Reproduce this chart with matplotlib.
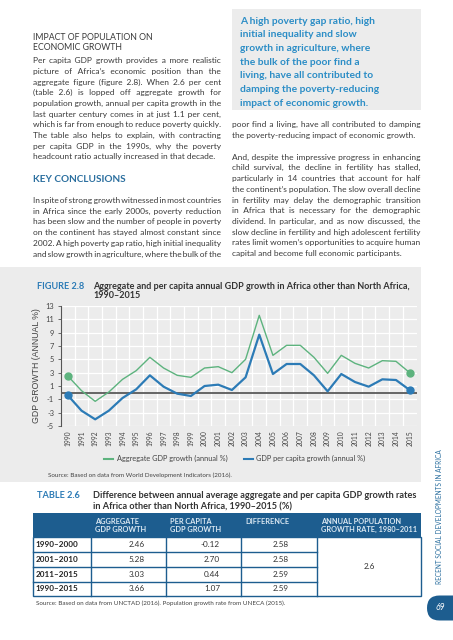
import matplotlib
matplotlib.use("Agg")
import numpy as np
import matplotlib.pyplot as plt
from matplotlib.patches import Rectangle, FancyBboxPatch

# ---- data ----
years = list(range(1990, 2016))
aggregate_growth = [2.5, 0.3, -1.3, 0.1, 2.0, 3.3, 5.3, 3.7, 2.6, 2.3, 3.7, 3.9, 3.0,
                    5.0, 11.6, 5.6, 7.1, 7.1, 5.3, 2.9, 5.6, 4.4, 3.7, 4.8, 4.7, 3.0]
per_capita_growth = [-0.4, -2.7, -4.0, -2.7, -0.8, 0.5, 2.6, 0.9, -0.15, -0.5, 1.0, 1.2, 0.4,
                     2.3, 8.7, 2.8, 4.3, 4.3, 2.6, 0.2, 2.8, 1.6, 0.9, 2.0, 1.9, 0.4]
y_ticks = list(range(-5, 14, 2))

table_headers = ["AGGREGATE\nGDP GROWTH", "PER CAPITA\nGDP GROWTH", "DIFFERENCE",
                 "ANNUAL POPULATION\nGROWTH RATE, 1980–2011"]
table_rows = ["1990–2000", "2001–2010", "2011–2015", "1990–2015"]
table_aggregate = ["2.46", "5.28", "3.03", "3.66"]
table_per_capita = ["-0.12", "2.70", "0.44", "1.07"]
table_difference = ["2.58", "2.58", "2.59", "2.59"]
table_population = "2.6"

callout_lines = ["A high poverty gap ratio, high", "initial inequality and slow",
                 "growth in agriculture, where", "the bulk of the poor find a",
                 "living, have all contributed to", "damping the poverty-reducing",
                 "impact of economic growth."]
para1 = ["Per capita GDP growth provides a more realistic",
         "picture of Africa’s economic position than the",
         "aggregate figure (figure 2.8). When 2.6 per cent",
         "(table 2.6) is lopped off aggregate growth for",
         "population growth, annual per capita growth in the",
         "last quarter century comes in at just 1.1 per cent,",
         "which is far from enough to reduce poverty quickly.",
         "The table also helps to explain, with contracting",
         "per capita GDP in the 1990s, why the poverty",
         "headcount ratio actually increased in that decade."]
para2 = ["In spite of strong growth witnessed in most countries",
         "in Africa since the early 2000s, poverty reduction",
         "has been slow and the number of people in poverty",
         "on the continent has stayed almost constant since",
         "2002. A high poverty gap ratio, high initial inequality",
         "and slow growth in agriculture, where the bulk of the"]
para3 = ["poor find a living, have all contributed to damping",
         "the poverty-reducing impact of economic growth."]
para4 = ["And, despite the impressive progress in enhancing",
         "child survival, the decline in fertility has stalled,",
         "particularly in 14 countries that account for half",
         "the continent’s population. The slow overall decline",
         "in fertility may delay the demographic transition",
         "in Africa that is necessary for the demographic",
         "dividend. In particular, and as now discussed, the",
         "slow decline in fertility and high adolescent fertility",
         "rates limit women’s opportunities to acquire human",
         "capital and become full economic participants."]

# colours
text_col = "#3a3a3a"
panel_gray = "#ececec"
green = "#5db37e"
blue = "#2c7bb6"
light_blue = "#2b8dc6"
dark_blue = "#1d5d8f"
head_blue = "#2b6f9f"

plt.rcParams['font.family'] = ['Lato', 'DejaVu Sans']

fig = plt.figure(figsize=(4.53, 6.4), dpi=100)
page = fig.add_axes([0, 0, 1, 1], zorder=0)
page.set_xlim(0, 453)
page.set_ylim(640, 0)
page.axis('off')
renderer = fig.canvas.get_renderer()


def text_width(s, **kw):
    t = page.text(0, 0, s, **kw)
    w = t.get_window_extent(renderer).width
    t.remove()
    return w


def justify(lines, x0, y0, width, step, last_natural=True, **kw):
    # one text per line; word gaps are built from hair spaces so they can shrink or grow
    base = text_width("aa", **kw)
    fillers = []
    for c in ['\u200a', '\u2009', '\u2006']:
        w = text_width("a" + c + "a", **kw) - base
        if w > 0.2:
            fillers.append((w, c))
    hair_w, hair = min(fillers) if fillers else (text_width("a a", **kw) - base, ' ')
    for i, line in enumerate(lines):
        y = y0 + i * step
        words = line.split()
        n = len(words) - 1
        if (last_natural and i == len(lines) - 1) or n == 0:
            page.text(x0, y, line, va='baseline', **kw)
            continue
        words_w = sum(text_width("a" + w + "a", **kw) - base for w in words)
        total = max(n, int(round((width - words_w) / hair_w)))
        s = words[0]
        for g in range(n):
            k = total * (g + 1) // n - total * g // n
            s += hair * k + words[g + 1]
        page.text(x0, y, s, va='baseline', **kw)


body = dict(fontsize=6.0, color=text_col)

# callout box
page.add_patch(Rectangle((232, 9), 189, 101, facecolor=panel_gray, edgecolor='none'))
for i, line in enumerate(callout_lines):
    page.text(240.5, 23.5 + i * 13.7, line, fontsize=7.35, fontweight='bold',
              color=light_blue, va='baseline')

# left column
page.text(32.7, 39.5, "IMPACT OF POPULATION ON", fontsize=6.3, color=text_col, va='baseline')
page.text(32.7, 50.5, "ECONOMIC GROWTH", fontsize=6.3, color=text_col, va='baseline')
justify(para1, 32.7, 63, 188, 10.7, **body)
page.text(32.7, 182.5, "KEY CONCLUSIONS", fontsize=7.2, fontweight='bold',
          color=head_blue, va='baseline')
justify(para2, 32.7, 203, 188, 10.7, last_natural=False, **body)

# right column
justify(para3, 232, 127.3, 188.5, 10.7, **body)
justify(para4, 232, 159.7, 188.5, 10.7, **body)

# figure panel
page.add_patch(Rectangle((0, 267), 420.5, 215, facecolor=panel_gray, edgecolor='none'))
page.text(36.7, 289, "FIGURE 2.8", fontsize=6.6, fontweight='bold', color=blue, va='baseline')
page.text(93, 289, "Aggregate and per capita annual GDP growth in Africa other than North Africa,",
          fontsize=6.5, fontweight='bold', color='#333333', va='baseline')
page.text(93, 298.5, "1990–2015", fontsize=6.5, fontweight='bold', color='#333333', va='baseline')

ax = fig.add_axes([61 / 453, 1 - 426 / 640, 355.5 / 453, 120 / 640], zorder=2)
ax.set_facecolor(panel_gray)
ax.plot(years, aggregate_growth, color=green, lw=1.0, zorder=4)
ax.plot(years, per_capita_growth, color=blue, lw=1.6, zorder=4)
ax.plot([years[0], years[-1]], [aggregate_growth[0], aggregate_growth[-1]], 'o',
        color=green, ms=5, zorder=5)
ax.plot([years[0], years[-1]], [per_capita_growth[0], per_capita_growth[-1]], 'o',
        color=blue, ms=5, zorder=5)
ax.axhline(0, color='#5a5a5a', lw=1.3, zorder=3)
ax.set_xlim(1989.5, 2015.5)
ax.set_ylim(-5, 13)
ax.set_yticks(y_ticks)
ax.set_yticklabels([str(v) for v in y_ticks], fontsize=5.4, color='#444444')
ax.set_xticks(years)
ax.set_xticklabels([str(y) for y in years], rotation=90, fontsize=4.9, color='#444444')
ax.set_xticks(np.arange(1990.5, 2015.5, 1), minor=True)
ax.yaxis.grid(True, color='white', lw=0.9)
ax.xaxis.grid(True, which='minor', color='white', lw=0.9)
ax.set_axisbelow(True)
ax.tick_params(axis='x', which='both', length=0, pad=3)
ax.tick_params(axis='y', length=2, width=0.6, color='#555555', pad=3)
for s in ['top', 'right', 'bottom']:
    ax.spines[s].set_visible(False)
ax.spines['left'].set_color('#555555')
ax.spines['left'].set_linewidth(0.8)
ax.set_ylabel("GDP GROWTH (ANNUAL %)", fontsize=6.3, color='#444444',
              family=['Liberation Sans', 'DejaVu Sans'], labelpad=3)

# legend
page.plot([104, 113], [459, 459], color=green, lw=1.5)
page.text(117, 461, "Aggregate GDP growth (annual %)", fontsize=5.3, color='#444444', va='baseline')
page.plot([244, 253], [459, 459], color=blue, lw=1.5)
page.text(256, 461, "GDP per capita growth (annual %)", fontsize=5.3, color='#444444', va='baseline')
page.text(48, 477, "Source: Based on data from World Development Indicators (2016).",
          fontsize=4.5, color='#444444', va='baseline')

# table
page.text(36.7, 498.5, "TABLE 2.6", fontsize=6.6, fontweight='bold', color=blue, va='baseline')
page.text(93, 498.5, "Difference between annual average aggregate and per capita GDP growth rates",
          fontsize=6.55, fontweight='bold', color='#333333', va='baseline')
page.text(93, 509, "in Africa other than North Africa, 1990–2015 (%)",
          fontsize=6.55, fontweight='bold', color='#333333', va='baseline')

col_x = [32.7, 90.7, 166.3, 241.3, 317.3, 420.7]
row_y = [513.3, 537.3, 552.3, 566.7, 581.7, 596]
page.add_patch(Rectangle((col_x[0], row_y[0]), col_x[-1] - col_x[0], row_y[1] - row_y[0],
                         facecolor=dark_blue, edgecolor='none'))
page.add_patch(Rectangle((col_x[0], row_y[1]), col_x[-1] - col_x[0], row_y[-1] - row_y[1],
                         facecolor='white', edgecolor=dark_blue, lw=1.0))
for x in col_x[1:-1]:
    page.plot([x, x], [row_y[1], row_y[-1]], color=dark_blue, lw=1.0)
for y in row_y[2:-1]:
    page.plot([col_x[0], col_x[4]], [y, y], color=dark_blue, lw=1.0)
for j, h in enumerate(table_headers):
    page.text(col_x[j + 1] + 4, 517.5, h, fontsize=5.3, fontweight='bold', color='#dce9f3',
              va='top', linespacing=1.3)
value_right = [145, 220, 289]
for i, lab in enumerate(table_rows):
    yc = (row_y[i + 1] + row_y[i + 2]) / 2
    page.text(35.5, yc, lab, fontsize=5.9, fontweight='bold', color='#222222', va='center')
    for xr, col in zip(value_right, [table_aggregate, table_per_capita, table_difference]):
        page.text(xr, yc, col[i], fontsize=5.9, color='#333333', va='center', ha='right')
page.text((col_x[4] + col_x[5]) / 2, (row_y[1] + row_y[-1]) / 2, table_population,
          fontsize=5.9, color='#333333', va='center', ha='center')
page.text(36, 604.5, "Source: Based on data from UNCTAD (2016). Population growth rate from UNECA (2015).",
          fontsize=4.5, color='#444444', va='baseline')

# side tab
page.text(439.5, 517, "RECENT SOCIAL DEVELOPMENTS IN AFRICA", rotation=90, fontsize=4.7,
          color=head_blue, ha='center', va='center')
page.add_patch(FancyBboxPatch((427, 595.5), 40, 25, boxstyle="round,pad=0,rounding_size=12.5",
                              facecolor=dark_blue, edgecolor='none'))
page.text(440.5, 608, "69", fontsize=6.2, style='italic', color='white', ha='center', va='center')

fig.savefig("out.png", dpi=100)
